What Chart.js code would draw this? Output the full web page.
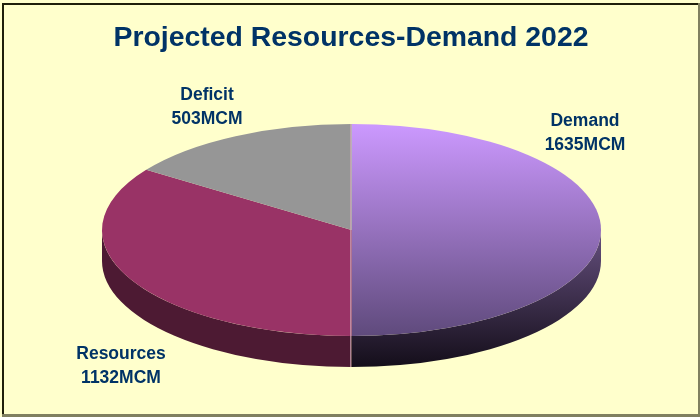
<!DOCTYPE html>
<html>
<head>
<meta charset="utf-8">
<title>Projected Resources-Demand 2022</title>
<script src="https://cdn.jsdelivr.net/npm/chart.js@4"></script>
<style>
  html, body { margin: 0; padding: 0; background: #ffffcc; }
  canvas { display: block; }
</style>
</head>
<body>
<canvas id="pieChart" width="700" height="417"></canvas>
<script>
const categories = ['Demand', 'Resources', 'Deficit'];
const values = [1635, 1132, 503];
const unit = 'MCM';

// 餅圖在畫面上的橢圓位置
const pieX = 351.5;
const pieY = 230;
const radius = 249.5;
const squash = 106 / 249.5;
const depth = 31 / squash; // 厚度，未壓扁前的高度

const navy = '#003366';
const labelFont = 'bold 17.5px "Liberation Sans", Arial, sans-serif';

function chartCenterY(chart) {
  return (chart.chartArea.top + chart.chartArea.bottom) / 2;
}

// 紫色那片的頂面漸層
function sliceColor(context) {
  const i = context.dataIndex;
  if (i === 1) return '#993366';
  if (i === 2) return '#969696';
  const chart = context.chart;
  if (!chart.chartArea) return '#cc99ff';
  const cy = chartCenterY(chart);
  const g = chart.ctx.createLinearGradient(0, cy - radius, 0, cy + radius);
  g.addColorStop(0, '#cc99ff');
  g.addColorStop(1, '#5f4a7c');
  return g;
}

function wallColor(chart, i) {
  if (i === 1) return '#4d1a33';
  if (i === 2) return '#4b4b4b';
  const cy = chartCenterY(chart);
  const g = chart.ctx.createLinearGradient(0, cy, 0, cy + radius + depth);
  g.addColorStop(0, '#66507f');
  g.addColorStop(1, '#140e1a');
  return g;
}

const framePlugin = {
  id: 'frame',
  beforeDraw(chart) {
    const ctx = chart.ctx;
    ctx.save();
    ctx.fillStyle = '#ffffcc';
    ctx.fillRect(0, 0, 700, 417);
    ctx.fillStyle = '#808060';
    ctx.fillRect(698, 3, 2, 414);
    ctx.fillRect(2, 414, 698, 3);
    ctx.fillStyle = '#1f1f0a';
    ctx.fillRect(2, 3, 696, 2);
    ctx.fillRect(2, 3, 2, 411);
    ctx.restore();
  }
};

const pie3dPlugin = {
  id: 'pie3d',
  beforeDatasetDraw(chart) {
    const ctx = chart.ctx;
    const arcs = chart.getDatasetMeta(0).data;
    ctx.save();
    ctx.translate(pieX, pieY);
    ctx.scale(1, squash);
    ctx.translate(-arcs[0].x, -arcs[0].y);
    // 先畫側面，只有前半圈看得到
    arcs.forEach((arc, i) => {
      const start = Math.max(arc.startAngle, 0);
      const end = Math.min(arc.endAngle, Math.PI);
      if (end <= start) return;
      ctx.beginPath();
      ctx.arc(arc.x, arc.y + depth, arc.outerRadius, start, end);
      ctx.arc(arc.x, arc.y, arc.outerRadius, end, start, true);
      ctx.closePath();
      ctx.fillStyle = wallColor(chart, i);
      ctx.fill();
    });
  },
  afterDatasetDraw(chart) {
    chart.ctx.restore();
  },
  afterDatasetsDraw(chart) {
    const ctx = chart.ctx;
    // 正下方和正上方的分界細線
    ctx.save();
    ctx.strokeStyle = 'rgba(205, 165, 180, 0.75)';
    ctx.lineWidth = 1;
    ctx.beginPath();
    ctx.moveTo(350.5, pieY - 106);
    ctx.lineTo(350.5, pieY + 106 + 31);
    ctx.stroke();

    ctx.font = labelFont;
    ctx.fillStyle = navy;
    ctx.textAlign = 'center';
    ctx.textBaseline = 'alphabetic';
    const labelPos = [[585, 126], [121, 359], [207, 100]];
    categories.forEach((name, i) => {
      ctx.fillText(name, labelPos[i][0], labelPos[i][1]);
      ctx.fillText(values[i] + unit, labelPos[i][0], labelPos[i][1] + 24);
    });
    ctx.restore();
  }
};

new Chart(document.getElementById('pieChart'), {
  type: 'pie',
  data: {
    labels: categories,
    datasets: [{
      data: values,
      backgroundColor: sliceColor,
      borderWidth: 0,
      clip: false
    }]
  },
  options: {
    responsive: false,
    animation: false,
    radius: radius,
    layout: { padding: { left: 2 } },
    plugins: {
      legend: { display: false },
      tooltip: { enabled: false },
      title: {
        display: true,
        text: 'Projected Resources-Demand 2022',
        color: navy,
        font: { family: '"Liberation Sans", Arial, sans-serif', size: 28.4, weight: 'bold' },
        padding: { top: 21, bottom: 10 }
      }
    }
  },
  plugins: [framePlugin, pie3dPlugin]
});
</script>
</body>
</html>
